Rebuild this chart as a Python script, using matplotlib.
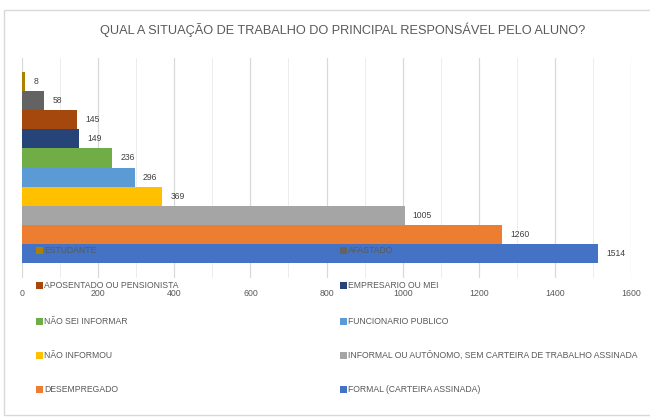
import matplotlib
matplotlib.use("Agg")
import matplotlib.pyplot as plt
from matplotlib.patches import Rectangle
from matplotlib.ticker import MultipleLocator

categories = ["ESTUDANTE", "AFASTADO", "APOSENTADO OU PENSIONISTA", "EMPRESARIO OU MEI",
              "NÃO SEI INFORMAR", "FUNCIONARIO PUBLICO", "NÃO INFORMOU",
              "INFORMAL OU AUTÔNOMO, SEM CARTEIRA DE TRABALHO ASSINADA",
              "DESEMPREGADO", "FORMAL (CARTEIRA ASSINADA)"]
values = [8, 58, 145, 149, 236, 296, 369, 1005, 1260, 1514]
colors = ["#A98300", "#636363", "#A5480E", "#264478", "#70AD47", "#5B9BD5",
          "#FFC000", "#A5A5A5", "#ED7D31", "#4472C4"]
xticks = [0, 200, 400, 600, 800, 1000, 1200, 1400, 1600]
title = "QUAL A SITUAÇÃO DE TRABALHO DO PRINCIPAL RESPONSÁVEL PELO ALUNO?"

plt.rcParams["font.family"] = ["Liberation Sans", "DejaVu Sans"]

W, H = 650, 417
fig = plt.figure(figsize=(W / 100, H / 100), dpi=100)

# axes in pixel coords: left 22, right 631, top 58, bottom 278
l, r, t, b = 22, 631, 58, 278
ax = fig.add_axes([l / W, 1 - b / H, (r - l) / W, (b - t) / H])

n = len(values)
pos = [n - 1 - i for i in range(n)]  # first item on top
ax.barh(pos, values, height=1.0, color=colors, zorder=2)
for p, v in zip(pos, values):
    ax.annotate(str(v), (v, p), xytext=(6, 0), textcoords="offset points",
                va="center", ha="left", fontsize=6.2, color="#404040", zorder=3)

ax.set_xlim(0, 1600)
ax.set_ylim(-0.5 - 0.78, n - 0.5 + 0.73)
ax.set_xticks(xticks)
ax.set_xticklabels([str(x) for x in xticks])
ax.xaxis.set_minor_locator(MultipleLocator(100))
ax.set_yticks([])
ax.tick_params(axis="x", length=0, labelsize=6.3, labelcolor="#595959", pad=8)
ax.tick_params(axis="x", which="minor", length=0)
ax.grid(axis="x", which="major", color="#D9D9D9", linewidth=0.9, zorder=0)
ax.grid(axis="x", which="minor", color="#EDEDED", linewidth=0.7, zorder=0)
for s in ax.spines.values():
    s.set_visible(False)
ax.set_axisbelow(True)

# title
fig.text(343 / W, 1 - 30 / H, title, ha="center", va="center", fontsize=9.2, color="#595959")

# frame
fig.patches.append(Rectangle((4 / W, 1 - 415 / H), (W + 10 - 4) / W, (415 - 10) / H,
                             transform=fig.transFigure, fill=False, edgecolor="#D9D9D9",
                             linewidth=1.0, zorder=0))

# legend (2 columns, 5 rows)
row_y = [250, 285, 321, 355, 389]
col_x = [36, 340]
for i, (lab, c) in enumerate(zip(categories, colors)):
    row, col = divmod(i, 2)
    x, y = col_x[col], row_y[row]
    fig.patches.append(Rectangle((x / W, 1 - (y + 3.5) / H), 7 / W, 7 / H,
                                 transform=fig.transFigure, facecolor=c, edgecolor="none",
                                 zorder=5))
    fig.text((x + 8) / W, 1 - y / H, lab, ha="left", va="center", fontsize=6.2,
             color="#595959", zorder=6)

fig.savefig("out.png", dpi=100)
